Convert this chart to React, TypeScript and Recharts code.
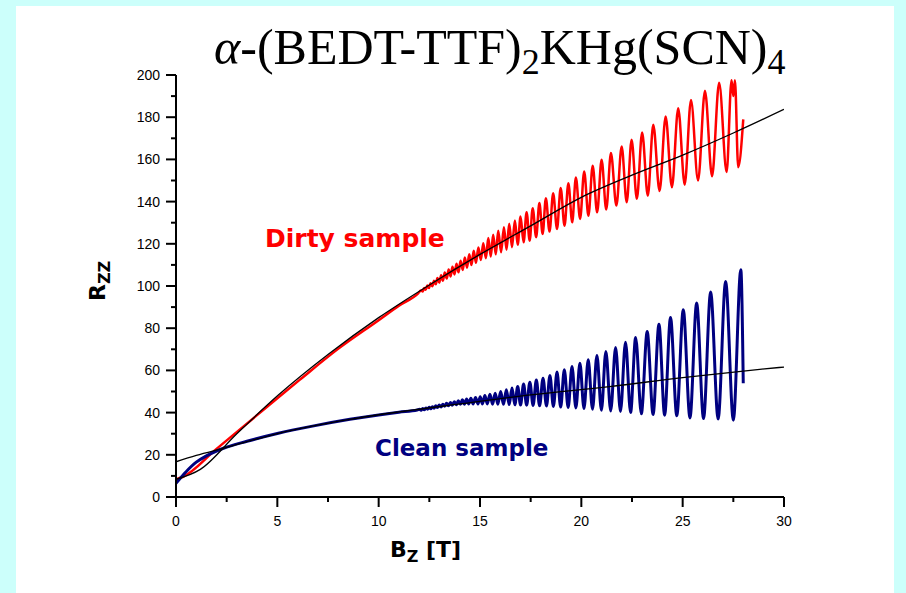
import { LineChart, Line, XAxis, YAxis } from 'recharts';

// field axis ticks (T) and resistance ticks
const xTicks = [0, 2.5, 5, 7.5, 10, 12.5, 15, 17.5, 20, 22.5, 25, 27.5, 30];
const yTicks = [0, 10, 20, 30, 40, 50, 60, 70, 80, 90, 100, 110, 120, 130, 140, 150, 160, 170, 180, 190, 200];

// Dirty sample (red): smooth low-field part, then oscillation extrema [B, R]
const dirtyStart = [[0, 8.4], [0.35, 9.6], [2, 22.8], [4, 38.8], [6.1, 55.5], [8, 70.2], [10, 83.8], [11, 90.7], [11.95, 96.5]];
const dirtyPeaks = [
  [12.09, 97.9], [12.24, 99.0], [12.4, 100.2], [12.56, 101.3], [12.73, 102.5], [12.9, 103.8], [13.08, 105.1], [13.26, 106.4],
  [13.45, 107.8], [13.64, 109.1], [13.84, 110.6], [14.04, 112.0], [14.25, 113.5], [14.47, 115.1], [14.69, 116.7], [14.92, 118.3],
  [15.16, 120.3], [15.41, 122.7], [15.65, 124.3], [15.9, 126.2], [16.18, 127.9], [16.44, 129.5], [16.72, 131.1], [17.0, 132.9],
  [17.3, 135.0], [17.6, 136.9], [17.93, 139.3], [18.25, 141.6], [18.61, 144.0], [18.98, 146.4], [19.36, 148.7], [19.73, 151.4],
  [20.14, 154.3], [20.56, 157.0], [21.0, 159.8], [21.46, 163.0], [21.99, 166.1], [22.48, 169.3], [23.0, 172.8], [23.55, 176.4],
  [24.16, 180.3], [24.78, 184.3], [25.41, 188.2], [26.1, 192.5], [26.8, 196.3], [27.41, 197.5], [27.58, 197.5],
];
const dirtyTroughs = [
  [12.17, 97.4], [12.32, 98.2], [12.48, 99.0], [12.65, 99.9], [12.82, 100.8], [12.99, 101.6], [13.17, 102.5], [13.36, 103.5],
  [13.55, 104.5], [13.74, 105.5], [13.94, 106.5], [14.15, 107.6], [14.36, 108.7], [14.58, 109.9], [14.8, 111.0], [15.04, 112.3],
  [15.29, 113.2], [15.53, 114.0], [15.78, 115.0], [16.04, 116.0], [16.31, 117.2], [16.58, 118.4], [16.86, 119.5], [17.15, 120.7],
  [17.45, 121.5], [17.77, 123.1], [18.09, 124.7], [18.43, 125.8], [18.8, 127.0], [19.17, 128.6], [19.55, 130.2], [19.94, 131.8],
  [20.35, 133.3], [20.78, 134.9], [21.23, 136.2], [21.73, 138.1], [22.24, 139.7], [22.74, 141.3], [23.28, 142.8], [23.86, 145.0],
  [24.47, 146.8], [25.1, 148.0], [25.76, 150.0], [26.45, 152.0], [27.17, 154.0], [27.5, 190.0], [27.74, 156.3],
];
const dirtyEnd = [[27.99, 179]];

// Clean sample (navy)
const cleanStart = [[0, 6.5], [0.5, 12], [1, 16.5], [1.5, 19.5], [2.34, 23.1], [3.5, 26.4], [5.05, 30.2], [6.8, 33.7], [8.58, 36.8], [10, 38.9], [11, 40.2], [11.9, 41.2]];
const cleanPeaks = [
  [12.02, 41.6], [12.17, 41.9], [12.33, 42.2], [12.49, 42.5], [12.65, 42.8], [12.82, 43.2], [12.99, 43.6], [13.17, 44.0],
  [13.35, 44.4], [13.54, 44.8], [13.73, 45.2], [13.93, 45.6], [14.13, 46.1], [14.34, 46.5], [14.55, 46.8], [14.78, 47.2],
  [15.01, 47.5], [15.24, 48.1], [15.49, 48.7], [15.75, 49.2], [16.02, 50.0], [16.3, 50.8], [16.58, 51.6], [16.86, 52.4],
  [17.15, 53.5], [17.46, 54.4], [17.78, 55.5], [18.11, 56.3], [18.45, 57.6], [18.8, 59.2], [19.16, 60.3], [19.54, 61.9],
  [19.93, 63.4], [20.34, 65.0], [20.77, 67.1], [21.21, 69.0], [21.69, 70.9], [22.18, 73.4], [22.68, 75.6], [23.25, 78.4],
  [23.83, 81.9], [24.4, 85.1], [25.03, 88.7], [25.69, 91.9], [26.38, 97.1], [27.12, 102.1], [27.87, 107.7],
];
const cleanTroughs = [
  [12.09, 41.1], [12.25, 41.3], [12.41, 41.6], [12.57, 41.8], [12.73, 42.1], [12.9, 42.4], [13.08, 42.7], [13.26, 43.0],
  [13.44, 43.2], [13.63, 43.5], [13.83, 43.7], [14.03, 43.9], [14.23, 44.0], [14.44, 44.1], [14.66, 44.1], [14.9, 44.1],
  [15.12, 44.1], [15.36, 44.1], [15.62, 44.0], [15.88, 44.0], [16.16, 43.9], [16.44, 43.8], [16.72, 43.7], [17.0, 43.6],
  [17.3, 43.5], [17.62, 43.4], [17.94, 43.2], [18.28, 43.1], [18.62, 42.9], [18.98, 42.6], [19.35, 42.4], [19.73, 42.2],
  [20.13, 41.9], [20.55, 41.6], [20.99, 41.1], [21.45, 40.8], [21.93, 40.5], [22.43, 40.0], [22.96, 39.4], [23.54, 39.1],
  [24.11, 38.8], [24.71, 38.5], [25.36, 37.5], [26.03, 37.2], [26.75, 37.0], [27.5, 36.4],
];
const cleanEnd = [[27.99, 53.9]];

// black background fits
const dirtyFit = [[0, 8.4], [1.2, 13.1], [3, 30], [5.05, 48.3], [7.5, 67.5], [10, 85], [12.5, 100.5], [15, 115], [17.5, 128.5], [20, 142], [22.5, 152.5], [25, 162], [27.5, 172.5], [30, 183.7]];
const cleanFit = [[0, 16.7], [1, 19.7], [2.34, 23.1], [5.05, 30.2], [8.58, 36.8], [11, 40.3], [14, 44.1], [17.5, 48.4], [21.4, 52.3], [25, 56.6], [28.8, 60.5], [30, 61.6]];

const toRows = (...parts: number[][][]) =>
  parts.flat().map(([b, r]) => ({ b, r })).sort((p, q) => p.b - q.b);

const dirtyData = toRows(dirtyStart, dirtyPeaks, dirtyTroughs, dirtyEnd);
const cleanData = toRows(cleanStart, cleanPeaks, cleanTroughs, cleanEnd);
const dirtyFitData = toRows(dirtyFit);
const cleanFitData = toRows(cleanFit);

const FONT = '"Liberation Sans", Arial, sans-serif';
const LABEL_FONT = '"DejaVu Sans", Verdana, sans-serif';

const XTick = (props: any) => {
  const { x, y, payload } = props;
  const v = payload.value;
  const major = v % 5 === 0;
  const y0 = y - 10;
  return (
    <g>
      <line x1={x} x2={x} y1={y0} y2={y0 + (major ? 10 : 5)} stroke="#000" strokeWidth={2} />
      {major && (
        <text x={x} y={y0 + 29} textAnchor="middle" fontSize={14} fontFamily={FONT} fill="#000">{v}</text>
      )}
    </g>
  );
};

const YTick = (props: any) => {
  const { x, y, payload } = props;
  const v = payload.value;
  const major = v % 20 === 0;
  const x0 = x + 10;
  return (
    <g>
      <line x1={x0 - (major ? 10 : 5)} x2={x0} y1={y} y2={y} stroke="#000" strokeWidth={2} />
      {major && (
        <text x={x0 - 16} y={y + 5} textAnchor="end" fontSize={14} fontFamily={FONT} fill="#000">{v}</text>
      )}
    </g>
  );
};

export default function App() {
  return (
    <div style={{ position: 'fixed', left: 0, top: 0, width: 906, height: 593, background: '#ccfffb', overflow: 'hidden' }}>
      <div style={{ position: 'absolute', left: 16, top: 6, width: 878, height: 587, background: '#fff' }} />
      <div style={{ position: 'absolute', left: 0, top: 0 }}>
        <LineChart width={906} height={593} margin={{ top: 75, right: 122, bottom: 66, left: 116 }}>
          <XAxis
            dataKey="b"
            type="number"
            domain={[0, 30]}
            ticks={xTicks}
            interval={0}
            height={30}
            allowDataOverflow
            axisLine={{ stroke: '#000', strokeWidth: 2 }}
            tickLine={false}
            tickSize={10}
            tickMargin={0}
            tick={<XTick />}
          />
          <YAxis
            type="number"
            domain={[0, 200]}
            ticks={yTicks}
            interval={0}
            width={60}
            allowDataOverflow
            axisLine={{ stroke: '#000', strokeWidth: 2 }}
            tickLine={false}
            tickSize={10}
            tickMargin={0}
            tick={<YTick />}
          />
          <Line data={dirtyData} dataKey="r" type="monotone" stroke="#ff0000" strokeWidth={2.5} dot={false} isAnimationActive={false} />
          <Line data={cleanData} dataKey="r" type="monotone" stroke="#000080" strokeWidth={3} dot={false} isAnimationActive={false} />
          <Line data={dirtyFitData} dataKey="r" type="monotone" stroke="#000" strokeWidth={1.3} dot={false} isAnimationActive={false} />
          <Line data={cleanFitData} dataKey="r" type="monotone" stroke="#000" strokeWidth={1.3} dot={false} isAnimationActive={false} />
        </LineChart>
      </div>
      <svg width={906} height={593} style={{ position: 'absolute', left: 0, top: 0, pointerEvents: 'none' }}>
        <text x={214} y={64} fontFamily='"Liberation Serif", "Times New Roman", serif' fontSize={50} fill="#000">
          <tspan fontStyle="italic">α</tspan>-(BEDT-TTF)<tspan fontSize={36} dy={10}>2</tspan>
          <tspan dy={-10}>KHg(SCN)</tspan><tspan fontSize={36} dy={10}>4</tspan>
        </text>
        <text x={265} y={247} fontFamily={LABEL_FONT} fontWeight="bold" fontSize={25} fill="#ff0000">Dirty sample</text>
        <text x={375} y={456} fontFamily={LABEL_FONT} fontWeight="bold" fontSize={23} fill="#000080">Clean sample</text>
        <text x={390} y={557} fontFamily={LABEL_FONT} fontWeight="bold" fontSize={22} fill="#000">
          B<tspan fontSize={16} dy={5}>Z</tspan><tspan dy={-5}> [T]</tspan>
        </text>
        <text transform="translate(105,301) rotate(-90)" fontFamily={LABEL_FONT} fontWeight="bold" fontSize={22} fill="#000">
          R<tspan fontSize={16} dy={5}>ZZ</tspan>
        </text>
      </svg>
    </div>
  );
}
